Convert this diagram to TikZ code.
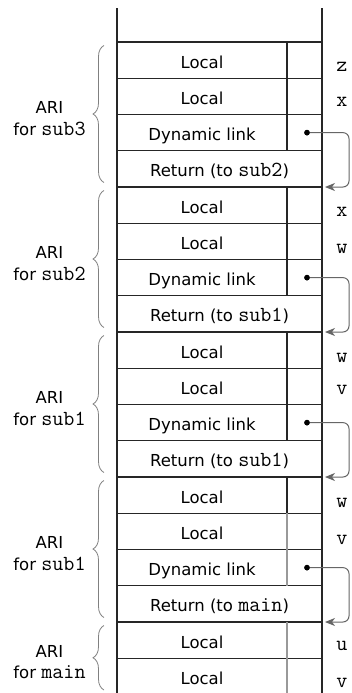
\documentclass[tikz,border=0pt]{standalone}
\usepackage{fontspec}
\setmainfont{DejaVu Sans}
\usetikzlibrary{positioning,arrows.meta,decorations.pathreplacing}

% a cell whose text sits in the wide part, leaving the narrow slot empty
\newcommand{\slotted}[1]{\makebox[170pt]{#1}\hspace*{35pt}}
% program names in typewriter type
\newcommand{\prog}[1]{{\fontsize{21.5}{21.5}\selectfont\ttfamily #1}}

\begin{document}
\begin{tikzpicture}[x=1pt,y=-1pt,
  every node/.style={font=\fontsize{16.5}{21.5}\selectfont},
  frame/.style={draw=black!85, line width=1.1pt, minimum width=205pt,
    minimum height=36.25pt, inner sep=0pt, outer sep=0pt,
    text height=16pt, text depth=0pt},
  wall/.style={draw=black!85, line width=1.1pt},
  softwall/.style={draw=black!40, line width=1.1pt},
  dot/.style={circle, fill=black, inner sep=0pt, minimum size=5.5pt},
  link/.style={draw=black!60, line width=1pt, rounded corners=6pt,
    -{Stealth[length=10pt,width=8pt,inset=3pt]}, shorten >=3pt},
  ari/.style={draw=black!50, line width=0.8pt,
    decoration={brace,amplitude=11pt}, decorate},
  arilbl/.style={anchor=east, xshift=-18pt, yshift=-4.5pt, align=center,
    inner sep=0pt, text=black},
  var/.style={font=\fontsize{21.5}{21.5}\selectfont\ttfamily, inner sep=0pt}
]
\useasboundingbox (0,0) rectangle (351,693);

% ---- the stack, one row per slot ----
\node[frame, anchor=north west] (r0) at (117,42) {\slotted{Local}};
\node[frame, below=0pt of r0]  (r1)  {\slotted{Local}};
\node[frame, below=0pt of r1]  (r2)  {\slotted{Dynamic link}};
\node[frame, below=0pt of r2]  (r3)  {Return (to \prog{sub2})};
\node[frame, below=0pt of r3]  (r4)  {\slotted{Local}};
\node[frame, below=0pt of r4]  (r5)  {\slotted{Local}};
\node[frame, below=0pt of r5]  (r6)  {\slotted{Dynamic link}};
\node[frame, below=0pt of r6]  (r7)  {Return (to \prog{sub1})};
\node[frame, below=0pt of r7]  (r8)  {\slotted{Local}};
\node[frame, below=0pt of r8]  (r9)  {\slotted{Local}};
\node[frame, below=0pt of r9]  (r10) {\slotted{Dynamic link}};
\node[frame, below=0pt of r10] (r11) {Return (to \prog{sub1})};
\node[frame, below=0pt of r11] (r12) {\slotted{Local}};
\node[frame, below=0pt of r12] (r13) {\slotted{Local}};
\node[frame, below=0pt of r13] (r14) {\slotted{Dynamic link}};
\node[frame, below=0pt of r14] (r15) {Return (to \prog{main})};
\node[frame, below=0pt of r15] (r16) {\slotted{Local}};
\node[frame, below=0pt of r16] (r17) {\slotted{Local}};

% open top of the stack
\draw[wall] (r0.north west) -- ++(0,-34);
\draw[wall] (r0.north east) -- ++(0,-34);

% slot dividers
\draw[wall] ([xshift=170pt]r0.north west) -- ([xshift=170pt]r2.south west);
\draw[wall] ([xshift=170pt]r4.north west) -- ([xshift=170pt]r6.south west);
\draw[wall] ([xshift=170pt]r8.north west) -- ([xshift=170pt]r10.south west);
\draw[wall] ([xshift=170pt]r12.north west) -- ([xshift=170pt]r12.south west);
\draw[softwall] ([xshift=170pt]r13.north west) -- ([xshift=170pt]r14.south west);
\draw[softwall] ([xshift=170pt]r16.north west) -- ([xshift=170pt]r17.south west);

% variable names beside the locals
\node[var] (vz3) at (342,67)  {z};
\node[var] (vx3) at (342,102) {x};
\node[var] (vx2) at (342,212) {x};
\node[var] (vw2) at (342,249) {w};
\node[var] (vwa) at (342,358) {w};
\node[var] (vva) at (342,390) {v};
\node[var] (vwb) at (342,503) {w};
\node[var] (vvb) at (342,540) {v};
\node[var] (vum) at (342,646) {u};
\node[var] (vvm) at (342,683) {v};

% dynamic links
\node[dot] (d2)  at ([xshift=-15pt]r2.east)  {};
\node[dot] (d6)  at ([xshift=-15pt]r6.east)  {};
\node[dot] (d10) at ([xshift=-15pt]r10.east) {};
\node[dot] (d14) at ([xshift=-15pt]r14.east) {};
\draw[link] (d2.center)  -| ([xshift=27pt]r3.south east)  -- (r3.south east);
\draw[link] (d6.center)  -| ([xshift=27pt]r7.south east)  -- (r7.south east);
\draw[link] (d10.center) -| ([xshift=27pt]r11.south east) -- (r11.south east);
\draw[link] (d14.center) -| ([xshift=27pt]r15.south east) -- (r15.south east);
\node[dot] at (d2.center) {};
\node[dot] at (d6.center) {};
\node[dot] at (d10.center) {};
\node[dot] at (d14.center) {};

% activation record instances
\draw[ari] ([xshift=-13pt,yshift=4.5pt]r3.south west) --
  node[arilbl] (a3) {ARI\\for \prog{sub3}}
  ([xshift=-13pt,yshift=-3.5pt]r0.north west);
\draw[ari] ([xshift=-13pt,yshift=4.5pt]r7.south west) --
  node[arilbl] (a2) {ARI\\for \prog{sub2}}
  ([xshift=-13pt,yshift=-3.5pt]r4.north west);
\draw[ari] ([xshift=-13pt,yshift=4.5pt]r11.south west) --
  node[arilbl] (a1) {ARI\\for \prog{sub1}}
  ([xshift=-13pt,yshift=-3.5pt]r8.north west);
\draw[ari] ([xshift=-13pt,yshift=4.5pt]r15.south west) --
  node[arilbl] (a0) {ARI\\for \prog{sub1}}
  ([xshift=-13pt,yshift=-3.5pt]r12.north west);
\draw[ari] ([xshift=-13pt,yshift=4.5pt]r17.south west) --
  node[arilbl] (am) {ARI\\for \prog{main}}
  ([xshift=-13pt,yshift=-3.5pt]r16.north west);
\end{tikzpicture}
\end{document}
